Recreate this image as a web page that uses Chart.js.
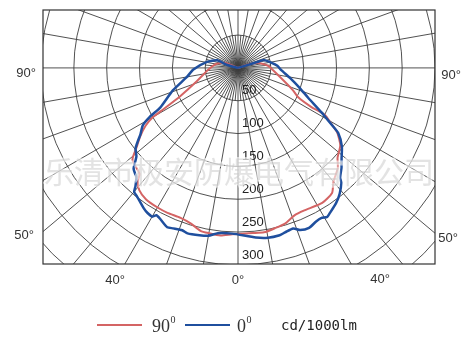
<!DOCTYPE html>
<html>
<head>
<meta charset="utf-8">
<script src="https://cdn.jsdelivr.net/npm/chart.js@4.4.0/dist/chart.umd.min.js"></script>
<style>
    html, body { margin: 0; padding: 0; background: #fff; }
    #wrap { width: 476px; height: 339px; }
</style>
</head>
<body>
<div id="wrap"><canvas id="polar" width="476" height="339"></canvas></div>
<script>
// angle in degrees from nadir (negative = left half), intensity in cd/1000lm
const angles0 = [-105, -105, -110, -101, -88, -80, -71, -63, -61, -59, -56, -52, -49, -46, -43, -41, -40, -38, -34, -32, -30, -29, -27, -24, -22, -19, -17, -13, -10, -7, -2,
                 6, 10, 14, 16, 19, 21, 24, 27, 29, 31, 32, 36, 39, 42, 43, 46, 49, 53, 57, 59, 62, 67, 72, 79, 87, 93, 99, 107, 107, 107, 105];
const values0 = [0, 17, 34, 48, 68, 79, 105, 133, 154, 169, 179, 198, 205, 221, 227, 238, 246, 249, 257, 260, 261, 256, 259, 265, 263, 261, 263, 261, 259, 253, 252,
                 259, 262, 262, 260, 258, 264, 266, 262, 261, 264, 262, 254, 246, 235, 228, 219, 209, 198, 182, 165, 144, 116, 99, 81, 66, 60, 51, 41, 30, 16, 0];

const angles90 = [-110, -111, -100, -86, -72, -64, -61, -60, -58, -55, -52, -49, -43, -41.5, -39, -35, -30, -26, -21, -17, -13, -10, -6, -2,
                  5, 9, 13, 17, 21, 25, 32, 37, 40, 45, 48, 53, 57, 59.5, 61.6, 62, 64, 68, 78, 94, 104, 108, 110];
const values90 = [0, 21, 34, 46, 66, 98, 131, 150, 166, 182, 196, 213, 220, 230, 239, 244, 245, 245, 244, 247, 254, 255, 256, 253,
                  252, 253, 250, 247, 240, 239, 242, 238, 226, 215, 204, 195, 180, 163, 151, 126, 102, 90, 65, 46, 31, 19, 0];

const ringValues = [50, 100, 150, 200, 250, 300, 350, 400];
const ringLabels = ["50", "100", "150", "200", "250", "300"];
const seriesNames = ["90°", "0°"];
const unitLabel = "cd/1000lm";
const watermark = "乐清市极安防爆电气有限公司";

const toXY = (angles, values) => angles.map((a, i) => {
    const t = a * Math.PI / 180;
    return { x: values[i] * Math.sin(t), y: -values[i] * Math.cos(t) };
});

const RED = "#d46464";
const BLUE = "#1f4f9e";

// polar grid, frame and ring labels behind the curves
const polarGrid = {
    id: "polarGrid",
    beforeDatasetsDraw(chart) {
        const { ctx, chartArea: a, scales: { x, y } } = chart;
        const cx = x.getPixelForValue(0), cy = y.getPixelForValue(0);
        const k = x.getPixelForValue(1) - cx;

        ctx.save();
        ctx.beginPath();
        ctx.rect(a.left, a.top, a.right - a.left, a.bottom - a.top);
        ctx.clip();
        ctx.strokeStyle = "#3d3d3d";
        ctx.lineWidth = 0.9;
        ringValues.forEach(v => {
            ctx.beginPath();
            ctx.arc(cx, cy, v * k, 0, Math.PI * 2);
            ctx.stroke();
        });
        for (let d = 0; d < 360; d += 5) {
            const len = (d % 10 === 0 ? 600 : 50) * k;
            const t = d * Math.PI / 180;
            ctx.beginPath();
            ctx.moveTo(cx, cy);
            ctx.lineTo(cx + len * Math.sin(t), cy + len * Math.cos(t));
            ctx.stroke();
        }
        ctx.restore();

        ctx.save();
        ctx.strokeStyle = "#333";
        ctx.lineWidth = 1.2;
        ctx.strokeRect(a.left, a.top, a.right - a.left, a.bottom - a.top);

        ctx.fillStyle = "#222";
        ctx.font = "13px 'Liberation Sans', Arial, sans-serif";
        ctx.textAlign = "left";
        ctx.textBaseline = "middle";
        ringLabels.forEach((s, i) => {
            ctx.fillText(s, cx + 4, y.getPixelForValue(-ringValues[i]) - 10);
        });

        // angle labels round the frame
        ctx.fillStyle = "#333";
        ctx.textAlign = "center";
        ctx.fillText("90°", 26, 73);
        ctx.fillText("90°", 451, 75);
        ctx.fillText("50°", 24, 235);
        ctx.fillText("50°", 448, 238);
        ctx.fillText("40°", 115, 280);
        ctx.fillText("40°", 380, 279);
        ctx.fillText("0°", 238, 280);
        ctx.restore();
    },
    afterDraw(chart) {
        const { ctx } = chart;
        ctx.save();
        // company watermark
        ctx.font = "30px 'Noto Sans CJK SC', sans-serif";
        ctx.textAlign = "center";
        ctx.textBaseline = "middle";
        ctx.lineWidth = 3;
        ctx.strokeStyle = "rgba(255,255,255,0.6)";
        ctx.strokeText(watermark, 239, 172);
        ctx.fillStyle = "rgba(200,200,200,0.5)";
        ctx.fillText(watermark, 239, 172);

        // legend
        const items = [{ c: RED, x0: 97, tx: 152, w: 2 }, { c: BLUE, x0: 185, tx: 237, w: 2 }];
        items.forEach((it, i) => {
            ctx.strokeStyle = it.c;
            ctx.lineWidth = it.w;
            ctx.beginPath();
            ctx.moveTo(it.x0, 325);
            ctx.lineTo(it.x0 + 45, 325);
            ctx.stroke();
            const num = seriesNames[i].replace("°", "");
            ctx.fillStyle = "#333";
            ctx.textAlign = "left";
            ctx.textBaseline = "alphabetic";
            ctx.font = "18px 'Liberation Serif', 'Times New Roman', serif";
            ctx.fillText(num, it.tx, 332);
            const w = ctx.measureText(num).width;
            ctx.font = "10px 'Liberation Serif', serif";
            ctx.fillText("0", it.tx + w + 0.5, 323);
        });
        ctx.fillStyle = "#222";
        ctx.font = "14px 'DejaVu Sans Mono', monospace";
        ctx.textBaseline = "middle";
        ctx.fillText(unitLabel, 281, 326);
        ctx.restore();
    }
};

new Chart(document.getElementById("polar"), {
    type: "scatter",
    data: {
        datasets: [
            { label: seriesNames[0], data: toXY(angles90, values90), borderColor: RED, borderWidth: 2, order: 1 },
            { label: seriesNames[1], data: toXY(angles0, values0), borderColor: BLUE, borderWidth: 2.5, order: 0 }
        ]
    },
    options: {
        responsive: false,
        animation: false,
        devicePixelRatio: 1,
        showLine: true,
        elements: { point: { radius: 0, hoverRadius: 0 }, line: { tension: 0.2, fill: false } },
        layout: { padding: { left: 43, right: 41, top: 10, bottom: 75 } },
        scales: {
            x: { type: "linear", min: -297, max: 300, display: false },
            y: { type: "linear", min: -298, max: 88, display: false }
        },
        plugins: { legend: { display: false }, tooltip: { enabled: false } }
    },
    plugins: [polarGrid]
});
</script>
</body>
</html>
